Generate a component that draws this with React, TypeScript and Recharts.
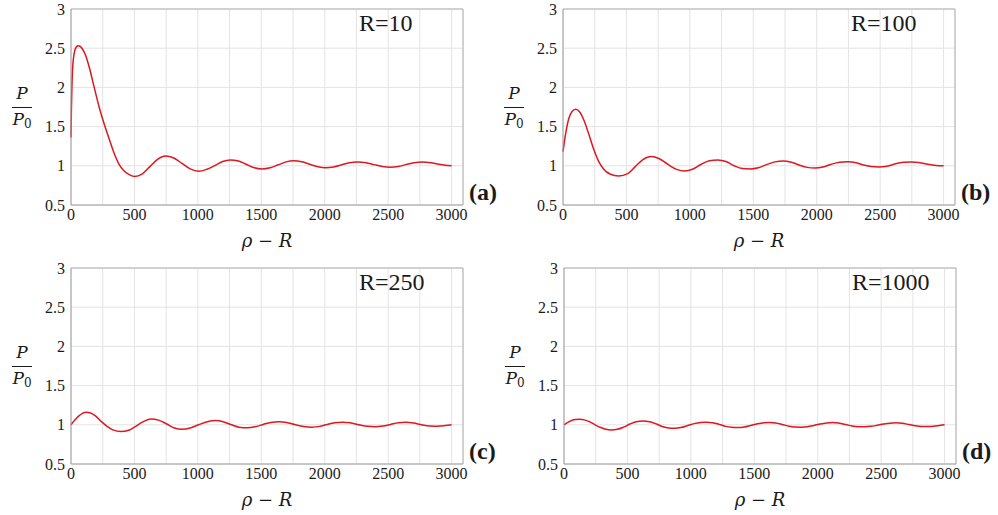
import React from 'react';
import { LineChart, Line, XAxis, YAxis, CartesianGrid, ReferenceLine } from 'recharts';

// ---- axis ticks ----
const X_TICKS = [0, 250, 500, 750, 1000, 1250, 1500, 1750, 2000, 2250, 2500, 2750, 3000];
const Y_TICKS = [0.5, 1, 1.5, 2, 2.5, 3];

// ---- panel (a) R=10 ----
const xA = [0, 3, 7, 12, 20, 30, 42, 55, 70, 90, 115, 145, 183, 225, 268, 310, 345, 378, 415, 455, 500, 560, 622, 685, 745, 810, 875, 940, 1005, 1070, 1130, 1195, 1255, 1320, 1380, 1445, 1505, 1570, 1630, 1695, 1755, 1820, 1880, 1945, 2005, 2070, 2130, 2195, 2260, 2325, 2390, 2455, 2515, 2580, 2640, 2705, 2770, 2835, 2900, 2950, 3000];
const yA = [1.36, 1.7, 2.0, 2.22, 2.38, 2.47, 2.515, 2.53, 2.525, 2.49, 2.41, 2.25, 2.0, 1.73, 1.5, 1.3, 1.14, 1.02, 0.94, 0.89, 0.865, 0.895, 0.99, 1.085, 1.125, 1.1, 1.03, 0.96, 0.93, 0.955, 1.0, 1.055, 1.075, 1.06, 1.02, 0.975, 0.96, 0.975, 1.01, 1.05, 1.065, 1.052, 1.02, 0.988, 0.975, 0.985, 1.01, 1.04, 1.05, 1.04, 1.015, 0.99, 0.98, 0.99, 1.015, 1.04, 1.05, 1.04, 1.02, 1.008, 1.0];

// ---- panel (b) R=100 ----
const xB = [0, 10, 25, 45, 70, 100, 130, 165, 200, 240, 280, 320, 370, 440, 510, 570, 630, 695, 760, 825, 895, 960, 1025, 1090, 1155, 1220, 1285, 1350, 1415, 1475, 1540, 1605, 1670, 1735, 1800, 1860, 1925, 1985, 2050, 2115, 2180, 2245, 2310, 2370, 2430, 2490, 2555, 2620, 2685, 2750, 2810, 2875, 2940, 3000];
const yB = [1.18, 1.3, 1.45, 1.6, 1.69, 1.72, 1.69, 1.58, 1.42, 1.22, 1.06, 0.96, 0.895, 0.87, 0.9, 0.99, 1.08, 1.12, 1.09, 1.02, 0.955, 0.935, 0.96, 1.02, 1.065, 1.075, 1.055, 1.0, 0.965, 0.96, 0.975, 1.015, 1.05, 1.062, 1.045, 1.01, 0.98, 0.972, 0.985, 1.02, 1.045, 1.052, 1.04, 1.01, 0.99, 0.985, 0.995, 1.025, 1.045, 1.05, 1.04, 1.02, 1.005, 1.0];

// ---- panel (c) R=250 ----
const xC = [0, 30, 60, 90, 120, 155, 195, 240, 285, 330, 395, 455, 510, 570, 631, 690, 755, 815, 876, 940, 1005, 1075, 1139, 1200, 1265, 1325, 1389, 1450, 1515, 1575, 1639, 1700, 1770, 1835, 1900, 1960, 2020, 2080, 2139, 2200, 2270, 2335, 2400, 2460, 2520, 2580, 2638, 2700, 2765, 2830, 2890, 2950, 3000];
const yC = [1.0, 1.06, 1.11, 1.145, 1.16, 1.15, 1.11, 1.04, 0.98, 0.935, 0.913, 0.93, 0.98, 1.04, 1.075, 1.06, 1.01, 0.96, 0.944, 0.96, 1.0, 1.04, 1.054, 1.04, 1.0, 0.97, 0.963, 0.975, 1.005, 1.03, 1.04, 1.03, 1.0, 0.978, 0.97, 0.98, 1.005, 1.025, 1.033, 1.025, 1.0, 0.98, 0.975, 0.985, 1.005, 1.025, 1.032, 1.022, 1.0, 0.985, 0.982, 0.99, 1.0];

// ---- panel (d) R=1000 ----
const xD = [0, 30, 60, 90, 124, 160, 200, 245, 290, 330, 373, 420, 470, 520, 570, 622, 675, 730, 780, 825, 872, 920, 975, 1025, 1075, 1121, 1170, 1225, 1275, 1320, 1370, 1420, 1470, 1525, 1575, 1620, 1670, 1720, 1775, 1820, 1869, 1920, 1970, 2020, 2070, 2118, 2165, 2220, 2270, 2320, 2368, 2420, 2470, 2520, 2570, 2617, 2665, 2720, 2770, 2820, 2866, 2915, 2960, 3000];
const yD = [1.0, 1.03, 1.055, 1.067, 1.07, 1.063, 1.04, 1.0, 0.965, 0.942, 0.935, 0.942, 0.97, 1.01, 1.04, 1.05, 1.04, 1.01, 0.975, 0.96, 0.957, 0.965, 0.99, 1.015, 1.03, 1.033, 1.027, 1.005, 0.98, 0.968, 0.965, 0.972, 0.99, 1.012, 1.026, 1.03, 1.024, 1.005, 0.982, 0.972, 0.97, 0.976, 0.992, 1.01, 1.023, 1.028, 1.022, 1.004, 0.985, 0.976, 0.975, 0.98, 0.995, 1.01, 1.021, 1.025, 1.02, 1.003, 0.987, 0.979, 0.978, 0.983, 0.992, 1.0];

const build = (xs: number[], ys: number[]) => xs.map((x, i) => ({ x, y: ys[i] }));

const W = 500;
const H = 258;
const PL = 71;
const PT = 9;
const PR = 463;
const PB = 205;
const FONT = 'Liberation Serif';
const MATH = 'DejaVu Serif';
const INK = '#1a1a1a';

function XTick(props: any) {
  const { x, y, payload } = props;
  const v = payload.value as number;
  if (v % 500 !== 0) return null;
  return (
    <text x={x} y={y} dy="0.71em" textAnchor="middle" fontFamily={FONT} fontSize={16} fill={INK}>
      {String(v)}
    </text>
  );
}

function YTick(props: any) {
  const { x, y, payload } = props;
  return (
    <text x={x} y={y} dy="0.355em" textAnchor="end" fontFamily={FONT} fontSize={16} fill={INK}>
      {String(payload.value)}
    </text>
  );
}

type PanelProps = { xs: number[]; ys: number[]; rLabel: string; tag: string; left: number; top: number };

function Panel({ xs, ys, rLabel, tag, left, top }: PanelProps) {
  const data = build(xs, ys);
  const cx = (PL + PR) / 2;
  return (
    <div style={{ position: 'absolute', left, top, width: W, height: H }}>
      <LineChart width={W} height={H} data={data} margin={{ top: PT, right: W - PR, bottom: 0, left: 0 }}>
        <CartesianGrid stroke="#e3e3e3" strokeWidth={1} />
        <XAxis
          type="number"
          dataKey="x"
          domain={[0, 3090]}
          ticks={X_TICKS}
          interval={0}
          tickLine={false}
          tickSize={0}
          tickMargin={4}
          axisLine={{ stroke: '#9c9c9c' }}
          height={H - PB}
          tick={<XTick />}
        />
        <YAxis
          type="number"
          domain={[0.5, 3]}
          ticks={Y_TICKS}
          interval={0}
          tickLine={false}
          tickSize={0}
          tickMargin={6}
          axisLine={{ stroke: '#9c9c9c' }}
          width={PL}
          tick={<YTick />}
        />
        <ReferenceLine y={3} stroke="#b0b0b0" />
        <ReferenceLine x={3090} stroke="#b0b0b0" />
        <Line type="monotone" dataKey="y" stroke="#dc1820" strokeWidth={1.5} dot={false} isAnimationActive={false} />
        <text x={PL + 288} y={31} fontFamily={FONT} fontSize={24} fill={INK}>{rLabel}</text>
        <text x={PR + 6} y={200} fontFamily={FONT} fontSize={24} fontWeight="bold" fill={INK}>{tag}</text>
        <text x={cx} y={247} textAnchor="middle" fontFamily={MATH} fontSize={18} fill={INK}>
          <tspan fontStyle="italic">ρ</tspan>
          <tspan> − </tspan>
          <tspan fontStyle="italic">R</tspan>
        </text>
        <text x={22} y={99} textAnchor="middle" fontFamily={MATH} fontStyle="italic" fontSize={17} fill={INK}>P</text>
        <line x1={12} x2={32} y1={107.5} y2={107.5} stroke={INK} strokeWidth={1} />
        <text x={22} y={125} textAnchor="middle" fontFamily={MATH} fontSize={17} fill={INK}>
          <tspan fontStyle="italic">P</tspan>
          <tspan fontSize={12} dy={3}>0</tspan>
        </text>
      </LineChart>
    </div>
  );
}

export default function App() {
  return (
    <div style={{ position: 'absolute', left: 0, top: 0, width: 998, height: 515, background: '#fff' }}>
      <Panel xs={xA} ys={yA} rLabel="R=10" tag="(a)" left={0} top={0} />
      <Panel xs={xB} ys={yB} rLabel="R=100" tag="(b)" left={492} top={0} />
      <Panel xs={xC} ys={yC} rLabel="R=250" tag="(c)" left={0} top={259} />
      <Panel xs={xD} ys={yD} rLabel="R=1000" tag="(d)" left={493} top={259} />
    </div>
  );
}
